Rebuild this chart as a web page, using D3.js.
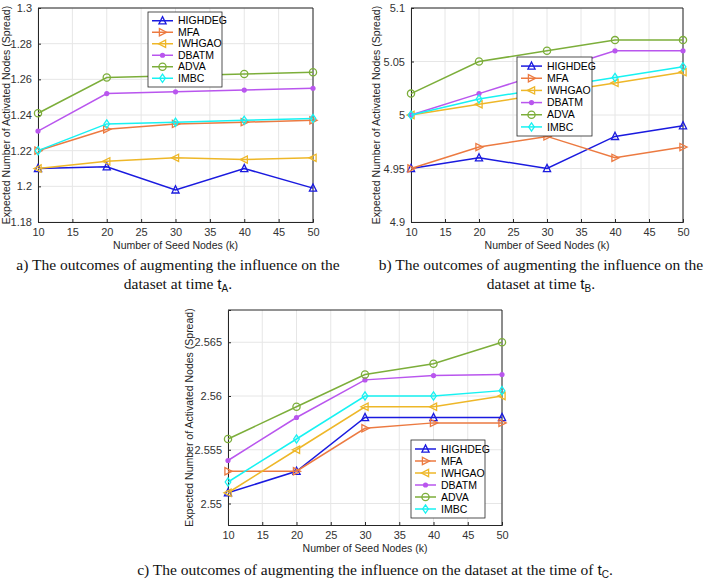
<!DOCTYPE html>
<html>
<head>
<meta charset="utf-8">
<script src="https://cdn.jsdelivr.net/npm/d3@7"></script>
<style>
  body { margin: 0; background: #fff; }
  svg { display: block; }
</style>
</head>
<body>
<div id="chart"></div>
<script>
// seed node counts (x axis)
const seeds = [10, 20, 30, 40, 50];
const methods = ["HIGHDEG", "MFA", "IWHGAO", "DBATM", "ADVA", "IMBC"];

// panel a) time tA
const spreadA = {
  HIGHDEG: [1.21, 1.211, 1.198, 1.21, 1.199],
  MFA:     [1.22, 1.232, 1.235, 1.236, 1.237],
  IWHGAO:  [1.21, 1.214, 1.216, 1.215, 1.216],
  DBATM:   [1.231, 1.252, 1.253, 1.254, 1.255],
  ADVA:    [1.241, 1.261, 1.262, 1.263, 1.264],
  IMBC:    [1.22, 1.235, 1.236, 1.237, 1.238]
};
// panel b) time tB
const spreadB = {
  HIGHDEG: [4.95, 4.96, 4.95, 4.98, 4.99],
  MFA:     [4.95, 4.97, 4.98, 4.96, 4.97],
  IWHGAO:  [5.0, 5.01, 5.02, 5.03, 5.04],
  DBATM:   [5.0, 5.02, 5.04, 5.06, 5.06],
  ADVA:    [5.02, 5.05, 5.06, 5.07, 5.07],
  IMBC:    [5.0, 5.015, 5.025, 5.035, 5.045]
};
// panel c) time tC
const spreadC = {
  HIGHDEG: [2.551, 2.553, 2.558, 2.558, 2.558],
  MFA:     [2.553, 2.553, 2.557, 2.5575, 2.5575],
  IWHGAO:  [2.551, 2.555, 2.559, 2.559, 2.56],
  DBATM:   [2.554, 2.558, 2.5615, 2.5619, 2.562],
  ADVA:    [2.556, 2.559, 2.562, 2.563, 2.565],
  IMBC:    [2.552, 2.556, 2.56, 2.56, 2.5605]
};

const xTicks = [10, 15, 20, 25, 30, 35, 40, 45, 50];
const yTicksA = [1.18, 1.2, 1.22, 1.24, 1.26, 1.28, 1.3];
const yTicksB = [4.9, 4.95, 5, 5.05, 5.1];
const yTicksC = [2.55, 2.555, 2.56, 2.565];

const colors = {
  HIGHDEG: "#1a1adf", MFA: "#ec7a41", IWHGAO: "#eeb728",
  DBATM: "#b956ee", ADVA: "#7cae3a", IMBC: "#17f2f2"
};
const markers = {
  HIGHDEG: "triUp", MFA: "triRight", IWHGAO: "triLeft",
  DBATM: "dot", ADVA: "circle", IMBC: "diamond"
};

const W = 715, H = 581;
const svg = d3.select("#chart").append("svg").attr("width", W).attr("height", H)
  .style("font-family", "'Liberation Sans', Arial, sans-serif");

function drawMarker(g, type, x, y, c) {
  const s = 3.6;
  if (type === "circle") {
    g.append("circle").attr("cx", x).attr("cy", y).attr("r", s).attr("fill", "none").attr("stroke", c).attr("stroke-width", 1.3);
  } else if (type === "dot") {
    g.append("circle").attr("cx", x).attr("cy", y).attr("r", 2.6).attr("fill", c);
  } else {
    let pts;
    if (type === "triUp") pts = [[x, y - s - 0.5], [x + s, y + s - 0.5], [x - s, y + s - 0.5]];
    if (type === "triRight") pts = [[x + s + 0.5, y], [x - s + 0.5, y - s], [x - s + 0.5, y + s]];
    if (type === "triLeft") pts = [[x - s - 0.5, y], [x + s - 0.5, y - s], [x + s - 0.5, y + s]];
    if (type === "diamond") pts = [[x, y - s - 0.5], [x + s - 0.8, y], [x, y + s + 0.5], [x - s + 0.8, y]];
    g.append("polygon").attr("points", pts.map(p => p.join(",")).join(" "))
      .attr("fill", "none").attr("stroke", c).attr("stroke-width", 1.3);
  }
}

function panel(opt) {
  const {left, right, top, bottom, yDomain, yTicks, data, legend} = opt;
  const x = d3.scaleLinear().domain([10, 50]).range([left, right]);
  const y = d3.scaleLinear().domain(yDomain).range([bottom, top]);
  const g = svg.append("g");

  // grid
  g.append("g").selectAll("line").data(xTicks).join("line")
    .attr("x1", d => x(d)).attr("x2", d => x(d)).attr("y1", top).attr("y2", bottom)
    .attr("stroke", "#e6e6e6").attr("stroke-width", 1);
  g.append("g").selectAll("line").data(yTicks).join("line")
    .attr("x1", left).attr("x2", right).attr("y1", d => y(d)).attr("y2", d => y(d))
    .attr("stroke", "#e6e6e6").attr("stroke-width", 1);

  // axes
  const fmt = d => String(+d.toFixed(4));
  const ax = g.append("g").attr("transform", `translate(0,${bottom})`)
    .call(d3.axisBottom(x).tickValues(xTicks).tickSize(-3).tickPadding(6).tickFormat(fmt));
  const ay = g.append("g").attr("transform", `translate(${left},0)`)
    .call(d3.axisLeft(y).tickValues(yTicks).tickSize(-3).tickPadding(6).tickFormat(fmt));
  [ax, ay].forEach(a => {
    a.select(".domain").attr("stroke", "#262626");
    a.selectAll(".tick line").attr("stroke", "#262626");
    a.selectAll("text").attr("fill", "#333").style("font-size", "11px")
      .style("font-family", "'Liberation Sans', Arial, sans-serif");
  });
  // top & right border
  g.append("path").attr("d", `M${left},${top}H${right}V${bottom}`)
    .attr("fill", "none").attr("stroke", "#262626").attr("stroke-width", 1);

  // labels
  g.append("text").attr("x", (left + right) / 2).attr("y", bottom + 27)
    .attr("text-anchor", "middle").style("font-size", "10.5px").attr("fill", "#262626")
    .text("Number of Seed Nodes (k)");
  g.append("text").attr("transform", `translate(${opt.ylabX},${(top + bottom) / 2}) rotate(-90)`)
    .attr("text-anchor", "middle").style("font-size", "10.5px").attr("fill", "#262626")
    .text("Expected Number of Activated Nodes (Spread)");

  // series
  const line = d3.line().x((d, i) => x(seeds[i])).y(d => y(d));
  methods.forEach(m => {
    g.append("path").datum(data[m]).attr("d", line)
      .attr("fill", "none").attr("stroke", colors[m]).attr("stroke-width", 1.5);
    data[m].forEach((v, i) => drawMarker(g, markers[m], x(seeds[i]), y(v), colors[m]));
  });

  // legend
  const lg = g.append("g");
  const rowH = (legend.y2 - legend.y1 - 6) / methods.length;
  lg.append("rect").attr("x", legend.x1).attr("y", legend.y1)
    .attr("width", legend.x2 - legend.x1).attr("height", legend.y2 - legend.y1)
    .attr("fill", "#fff").attr("stroke", "#262626").attr("stroke-width", 0.8);
  methods.forEach((m, i) => {
    const cy = legend.y1 + 3 + rowH * (i + 0.5);
    lg.append("line").attr("x1", legend.x1 + 4).attr("x2", legend.x1 + 25)
      .attr("y1", cy).attr("y2", cy).attr("stroke", colors[m]).attr("stroke-width", 1.5);
    drawMarker(lg, markers[m], legend.x1 + 14.5, cy, colors[m]);
    lg.append("text").attr("x", legend.x1 + 30).attr("y", cy + 3.7)
      .style("font-size", "10.5px").attr("fill", "#000").text(m);
  });
}

panel({left: 38, right: 313, top: 8, bottom: 222, yDomain: [1.18, 1.3], yTicks: yTicksA,
  data: spreadA, ylabX: 10, legend: {x1: 148, x2: 222, y1: 12, y2: 87}});
panel({left: 411, right: 683, top: 8, bottom: 222, yDomain: [4.9, 5.1], yTicks: yTicksB,
  data: spreadB, ylabX: 380, legend: {x1: 517, x2: 592, y1: 57, y2: 136}});
panel({left: 228, right: 502, top: 310, bottom: 525, yDomain: [2.548, 2.568], yTicks: yTicksC,
  data: spreadC, ylabX: 193, legend: {x1: 411, x2: 485, y1: 440, y2: 518}});

// captions
function caption(cx, y, pre, sub, post) {
  const t = svg.append("text").attr("x", cx).attr("y", y).attr("text-anchor", "middle")
    .style("font-family", "'Liberation Serif', 'Times New Roman', serif").style("font-size", "15.5px").attr("fill", "#111");
  t.append("tspan").text(pre);
  if (sub) {
    t.append("tspan").style("font-family", "'Liberation Sans', Arial, sans-serif").text("t");
    t.append("tspan").attr("dy", 2.5).style("font-size", "10px")
      .style("font-family", "'Liberation Sans', Arial, sans-serif").text(sub);
    t.append("tspan").attr("dy", -2.5).text(post);
  }
}
caption(178, 270, "a) The outcomes of augmenting the influence on the");
caption(178, 289, "dataset at time ", "A", ".");
caption(541, 270, "b) The outcomes of augmenting the influence on the");
caption(541, 289, "dataset at time ", "B", ".");
caption(375, 575, "c) The outcomes of augmenting the influence on the dataset at the time of ", "C", ".");
</script>
</body>
</html>
